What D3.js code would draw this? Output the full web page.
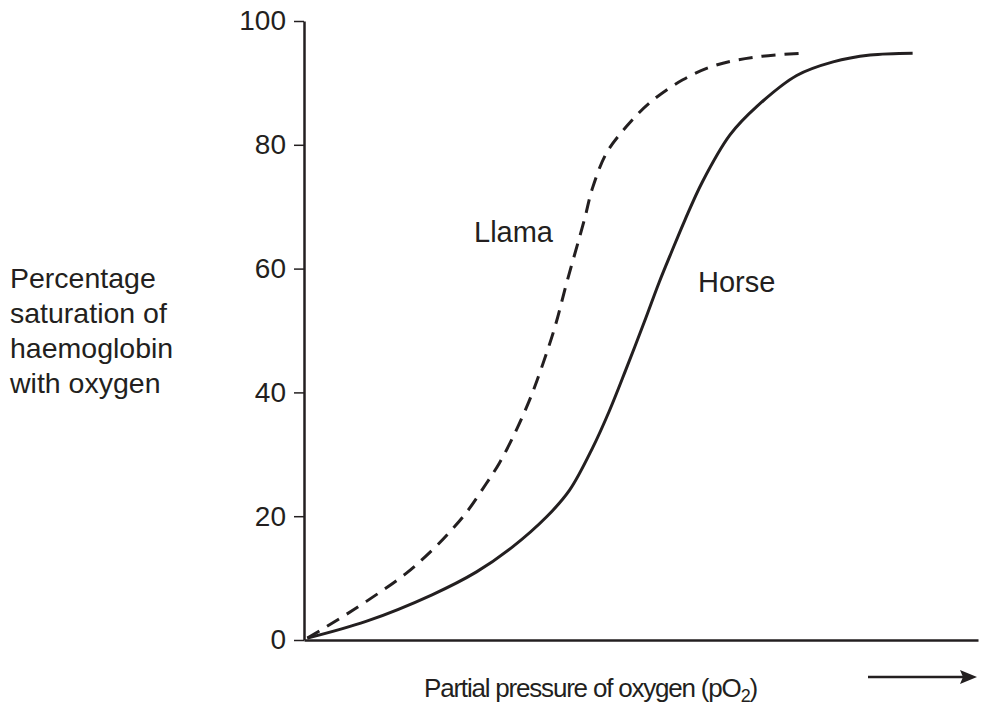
<!DOCTYPE html>
<html>
<head>
<meta charset="utf-8">
<script src="https://cdn.jsdelivr.net/npm/d3@7"></script>
<style>
  html, body { margin: 0; padding: 0; background: #fff; }
  svg { display: block; }
  text { font-family: "Liberation Sans", Arial, Helvetica, sans-serif; fill: #231f20; }
</style>
</head>
<body>
<svg id="chart" width="984" height="709"></svg>
<script>
// ---- data ----
const yTicks = [0, 20, 40, 60, 80, 100];
const yLabelLines = ["Percentage", "saturation of", "haemoglobin", "with oxygen"];
const seriesNames = ["Llama", "Horse"];
// x = partial pressure of oxygen (arbitrary units, 0–100), y = % saturation
const horseX = [0.5, 9.2, 19.0, 25.6, 30.9, 36.0, 39.4, 42.8, 45.3, 47.8, 50.5, 52.7, 54.5, 56.5, 59.1, 63.2, 67.2, 73.1, 78.5, 84.0, 90.3];
const horseY = [0.3, 3.0, 7.3, 11.0, 15.0, 19.9, 24.2, 31.0, 37.0, 43.8, 51.4, 57.8, 62.6, 67.8, 74.0, 81.6, 86.2, 91.2, 93.4, 94.5, 94.8];
const llamaX = [0.5, 5.2, 9.2, 15.2, 19.0, 21.5, 24.1, 27.0, 29.0, 31.5, 33.4, 34.6, 37.1, 39.1, 41.6, 42.8, 44.9, 47.8, 51.3, 56.2, 61.2, 67.2, 74.0];
const llamaY = [0.3, 3.4, 6.2, 10.8, 14.5, 17.3, 20.6, 25.2, 28.6, 33.9, 38.6, 42.0, 50.1, 58.2, 67.9, 73.0, 78.7, 82.9, 86.8, 90.5, 92.9, 94.2, 94.8];

const ink = "#231f20";
const svg = d3.select("#chart");

const x = d3.scaleLinear().domain([0, 100]).range([304, 978]);
const y = d3.scaleLinear().domain([0, 100]).range([640, 21]);

// y axis
const yAxis = svg.append("g")
  .attr("transform", `translate(${x(0)},0)`)
  .call(d3.axisLeft(y).tickValues(yTicks).tickSize(10).tickPadding(8).tickSizeOuter(0));
yAxis.select(".domain").attr("stroke", ink).attr("stroke-width", 2.5);
yAxis.selectAll(".tick line").attr("stroke", ink).attr("stroke-width", 1.5);
yAxis.selectAll(".tick text").style("font-size", "28px").attr("fill", ink)
  .style("font-family", '"Liberation Sans", Arial, sans-serif');

// x axis (no ticks)
const xAxis = svg.append("g")
  .attr("transform", `translate(0,${y(0)})`)
  .call(d3.axisBottom(x).tickValues([]).tickSizeOuter(0));
xAxis.select(".domain").attr("stroke", ink).attr("stroke-width", 2.5);

// curves
const line = d3.line().x(d => x(d[0])).y(d => y(d[1])).curve(d3.curveCatmullRom.alpha(0.5));
const horse = horseX.map((v, i) => [v, horseY[i]]);
const llama = llamaX.map((v, i) => [v, llamaY[i]]);

svg.append("path").datum(horse).attr("d", line)
  .attr("fill", "none").attr("stroke", ink).attr("stroke-width", 3);
svg.append("path").datum(llama).attr("d", line)
  .attr("fill", "none").attr("stroke", ink).attr("stroke-width", 3)
  .attr("stroke-dasharray", "14,9");

// series labels
svg.append("text").attr("x", 474).attr("y", 242).style("font-size", "29px").text(seriesNames[0]);
svg.append("text").attr("x", 698).attr("y", 292).style("font-size", "29px").text(seriesNames[1]);

// y label
const yl = svg.append("text").attr("x", 10).attr("y", 288).style("font-size", "28.5px");
yLabelLines.forEach((t, i) => {
  yl.append("tspan").attr("x", 10).attr("dy", i === 0 ? 0 : 35).text(t);
});

// x label with subscript
const xl = svg.append("text").attr("x", 424).attr("y", 697)
  .style("font-size", "26px").style("letter-spacing", "-1.2px");
xl.append("tspan").text("Partial pressure of oxygen (pO");
xl.append("tspan").attr("dy", 5).style("font-size", "18px").text("2");
xl.append("tspan").attr("dy", -5).text(")");

// arrow
svg.append("line").attr("x1", 868).attr("x2", 964).attr("y1", 677).attr("y2", 677)
  .attr("stroke", ink).attr("stroke-width", 2.5);
svg.append("path").attr("d", "M977,677 L960,670 L963,677 L960,684 Z").attr("fill", ink);
</script>
</body>
</html>
